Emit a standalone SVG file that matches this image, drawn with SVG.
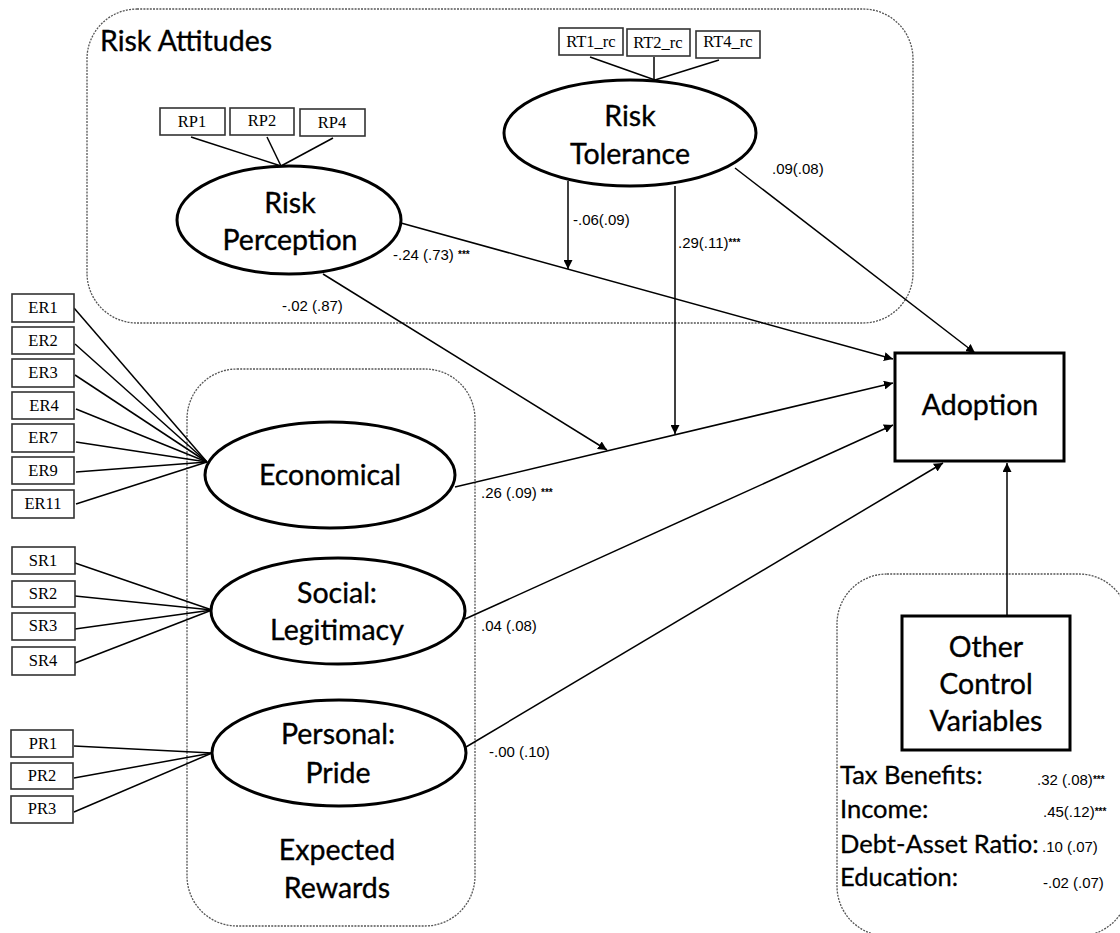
<svg xmlns="http://www.w3.org/2000/svg" width="1120" height="933" viewBox="0 0 1120 933">
<defs>
<marker id="ah" viewBox="0 0 10 10" refX="10" refY="5" markerWidth="9" markerHeight="9" markerUnits="userSpaceOnUse" orient="auto">
<path d="M0,0 L10,5 L0,10 z" fill="#000"/>
</marker>
<style>
.grp{fill:none;stroke:#555;stroke-width:1.3;stroke-dasharray:2 1.2}
.lat{fill:#fff;stroke:#000;stroke-width:3}
.ind{fill:#fff;stroke:#333;stroke-width:1.6}
.obs{fill:#fff;stroke:#000;stroke-width:3}
.big{font-family:Lato,"Open Sans","Liberation Sans",sans-serif;font-size:28.5px;fill:#000;stroke:#000;stroke-width:0.35;text-anchor:middle}
.ctl{font-family:Lato,"Open Sans","Liberation Sans",sans-serif;font-size:25.5px;fill:#000;stroke:#000;stroke-width:0.3}
.tm{font-family:"Liberation Serif","Times New Roman",serif;font-size:16.5px;fill:#000;text-anchor:middle}
.lab{font-family:"Liberation Sans",Arial,sans-serif;font-size:15px;fill:#000}
.sm{font-family:"Liberation Sans",Arial,sans-serif;font-size:15px;fill:#000}
.st{font-size:10px;font-weight:bold}
.ln{fill:none;stroke:#000;stroke-width:1.5}
.ar{fill:none;stroke:#000;stroke-width:1.5;marker-end:url(#ah)}
</style>
</defs>
<rect width="1120" height="933" fill="#fff"/>

<g id="group-risk-attitudes">
<rect class="grp" x="87" y="9" width="826" height="314" rx="50" ry="50"/>
<text class="big" x="100" y="51" style="text-anchor:start">Risk Attitudes</text>
</g>
<g id="group-expected-rewards">
<rect class="grp" x="187" y="369" width="288" height="557" rx="50" ry="50"/>
<text class="big" x="337" y="860">Expected</text>
<text class="big" x="337" y="898">Rewards</text>
</g>
<g id="group-controls">
<rect class="grp" x="837" y="574" width="292" height="362" rx="50" ry="50"/>
</g>

<g id="connectors">
<line class="ln" x1="191" y1="137" x2="281" y2="166"/>
<line class="ln" x1="267" y1="137" x2="281" y2="166"/>
<line class="ln" x1="333" y1="138" x2="281" y2="166"/>
<line class="ln" x1="590" y1="57" x2="655" y2="80"/>
<line class="ln" x1="654" y1="57" x2="654" y2="80"/>
<line class="ln" x1="719" y1="60" x2="655" y2="80"/>
<line class="ln" x1="74" y1="308" x2="207" y2="462"/>
<line class="ln" x1="75" y1="344" x2="207" y2="462"/>
<line class="ln" x1="75" y1="375" x2="207" y2="462"/>
<line class="ln" x1="76" y1="409" x2="207" y2="462"/>
<line class="ln" x1="76" y1="442" x2="207" y2="462"/>
<line class="ln" x1="76" y1="472" x2="207" y2="462"/>
<line class="ln" x1="76" y1="504" x2="207" y2="462"/>
<line class="ln" x1="75" y1="563" x2="212" y2="610"/>
<line class="ln" x1="75" y1="596" x2="212" y2="610"/>
<line class="ln" x1="75" y1="629" x2="212" y2="610"/>
<line class="ln" x1="75" y1="663" x2="212" y2="610"/>
<line class="ln" x1="74" y1="746" x2="212" y2="753"/>
<line class="ln" x1="74" y1="778" x2="212" y2="753"/>
<line class="ln" x1="74" y1="812" x2="212" y2="753"/>
<line class="ar" x1="401" y1="223" x2="893" y2="359"/>
<line class="ar" x1="455" y1="487" x2="893" y2="383"/>
<line class="ar" x1="465" y1="619" x2="893" y2="425"/>
<line class="ar" x1="466" y1="747" x2="943" y2="463"/>
<line class="ar" x1="735" y1="168" x2="975" y2="353"/>
<line class="ar" x1="1007" y1="616" x2="1007" y2="463"/>
<line class="ar" x1="568" y1="181" x2="568" y2="269"/>
<line class="ar" x1="675" y1="186" x2="675" y2="434"/>
<line class="ar" x1="323" y1="274" x2="607" y2="450"/>
</g>

<g id="labels">
<text class="lab" x="393" y="260">-.24 (.73) <tspan class="st" dy="-2">***</tspan></text>
<text class="lab" x="282" y="311">-.02 (.87)</text>
<text class="lab" x="573" y="225">-.06(.09)</text>
<text class="lab" x="678" y="248">.29(.11)<tspan class="st" dy="-2">***</tspan></text>
<text class="lab" x="772" y="174">.09(.08)</text>
<text class="lab" x="481" y="498">.26 (.09) <tspan class="st" dy="-2">***</tspan></text>
<text class="lab" x="481" y="631">.04 (.08)</text>
<text class="lab" x="489" y="757">-.00 (.10)</text>
</g>

<g id="node-rp1"><rect class="ind" x="160" y="108" width="65" height="27"/><text class="tm" x="192" y="127">RP1</text></g>
<g id="node-rp2"><rect class="ind" x="230" y="108" width="64" height="27"/><text class="tm" x="262" y="126">RP2</text></g>
<g id="node-rp4"><rect class="ind" x="300" y="109" width="65" height="27"/><text class="tm" x="332" y="128">RP4</text></g>

<g id="node-rt1"><rect class="ind" x="559" y="28" width="64" height="27"/><text class="tm" x="591" y="47">RT1_rc</text></g>
<g id="node-rt2"><rect class="ind" x="627" y="29" width="63" height="27"/><text class="tm" x="658" y="48">RT2_rc</text></g>
<g id="node-rt4"><rect class="ind" x="696" y="31" width="64" height="27"/><text class="tm" x="728" y="47">RT4_rc</text></g>

<g id="node-risk-perception">
<ellipse class="lat" cx="289" cy="220" rx="112" ry="54"/>
<text class="big" x="290" y="213">Risk</text>
<text class="big" x="290" y="250">Perception</text>
</g>
<g id="node-risk-tolerance">
<ellipse class="lat" cx="630" cy="133" rx="126" ry="53"/>
<text class="big" x="630" y="126">Risk</text>
<text class="big" x="630" y="164">Tolerance</text>
</g>

<g id="node-er1"><rect class="ind" x="12" y="294" width="62" height="28"/><text class="tm" x="43" y="313">ER1</text></g>
<g id="node-er2"><rect class="ind" x="12" y="327" width="62" height="27"/><text class="tm" x="43" y="346">ER2</text></g>
<g id="node-er3"><rect class="ind" x="12" y="359" width="62" height="28"/><text class="tm" x="43" y="378">ER3</text></g>
<g id="node-er4"><rect class="ind" x="12" y="392" width="62" height="27"/><text class="tm" x="44" y="411">ER4</text></g>
<g id="node-er7"><rect class="ind" x="12" y="424" width="62" height="28"/><text class="tm" x="43" y="443">ER7</text></g>
<g id="node-er9"><rect class="ind" x="12" y="457" width="62" height="27"/><text class="tm" x="43" y="476">ER9</text></g>
<g id="node-er11"><rect class="ind" x="12" y="490" width="62" height="28"/><text class="tm" x="43" y="509">ER11</text></g>

<g id="node-sr1"><rect class="ind" x="12" y="547" width="63" height="27"/><text class="tm" x="43" y="566">SR1</text></g>
<g id="node-sr2"><rect class="ind" x="12" y="581" width="63" height="26"/><text class="tm" x="43" y="599">SR2</text></g>
<g id="node-sr3"><rect class="ind" x="12" y="613" width="63" height="27"/><text class="tm" x="43" y="631">SR3</text></g>
<g id="node-sr4"><rect class="ind" x="12" y="647" width="63" height="28"/><text class="tm" x="43" y="666">SR4</text></g>

<g id="node-pr1"><rect class="ind" x="11" y="730" width="62" height="27"/><text class="tm" x="43" y="749">PR1</text></g>
<g id="node-pr2"><rect class="ind" x="11" y="763" width="62" height="26"/><text class="tm" x="42" y="781">PR2</text></g>
<g id="node-pr3"><rect class="ind" x="11" y="796" width="62" height="27"/><text class="tm" x="42" y="814">PR3</text></g>

<g id="node-economical">
<ellipse class="lat" cx="330" cy="475" rx="125" ry="53"/>
<text class="big" x="330" y="485">Economical</text>
</g>
<g id="node-social">
<ellipse class="lat" cx="338" cy="611" rx="127" ry="53"/>
<text class="big" x="337" y="603">Social:</text>
<text class="big" x="337" y="640">Legitimacy</text>
</g>
<g id="node-personal">
<ellipse class="lat" cx="339" cy="753" rx="127" ry="53"/>
<text class="big" x="338" y="744">Personal:</text>
<text class="big" x="338" y="783">Pride</text>
</g>

<g id="node-adoption">
<rect class="obs" x="895" y="353" width="169" height="108"/>
<text class="big" x="980" y="415">Adoption</text>
</g>

<g id="node-controls">
<rect class="obs" x="902" y="616" width="168" height="134"/>
<text class="big" x="986" y="657">Other</text>
<text class="big" x="986" y="694">Control</text>
<text class="big" x="986" y="731">Variables</text>
<text class="ctl" x="840" y="784">Tax Benefits:</text>
<text class="ctl" x="840" y="818">Income:</text>
<text class="ctl" x="840" y="853">Debt-Asset Ratio:</text>
<text class="ctl" x="840" y="886">Education:</text>
<text class="sm" x="1037" y="785">.32 (.08)<tspan class="st" dy="-2">***</tspan></text>
<text class="sm" x="1043" y="817">.45(.12)<tspan class="st" dy="-2">***</tspan></text>
<text class="sm" x="1042" y="852">.10 (.07)</text>
<text class="sm" x="1043" y="888">-.02 (.07)</text>
</g>
</svg>
